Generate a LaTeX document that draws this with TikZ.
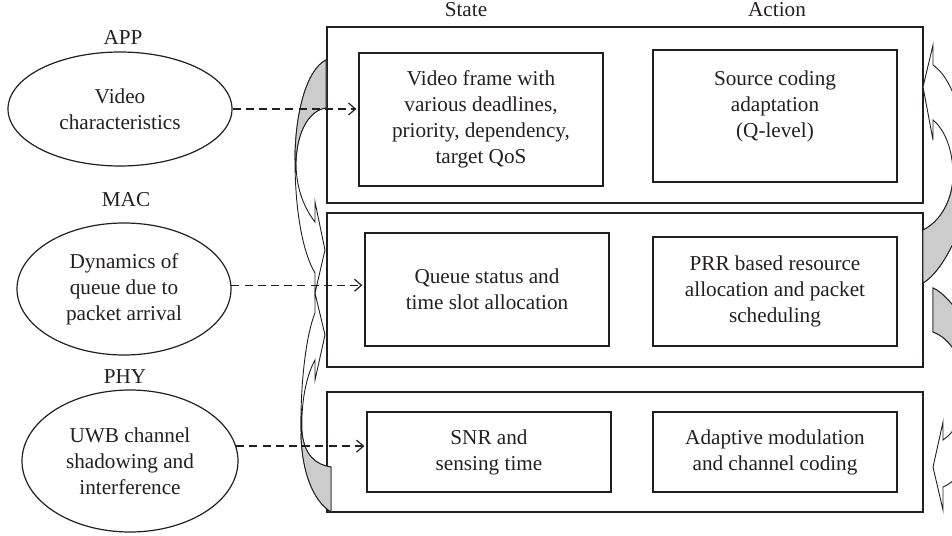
\documentclass[tikz,border=0pt]{standalone}
\usepackage{fontspec}
\setmainfont{Liberation Serif}
\usetikzlibrary{shapes.geometric,arrows.meta}

\definecolor{ink}{RGB}{35,31,32}
\definecolor{backface}{RGB}{204,204,204}

\tikzset{
  layerbox/.style={draw=ink, line width=0.6pt, minimum width=298pt, inner sep=0pt},
  infobox/.style={draw=ink, line width=0.6pt, minimum width=122pt, inner sep=0pt, align=center},
  source/.style={ellipse, draw=ink, line width=0.6pt, inner sep=0pt, align=center},
  feed/.style={draw=ink, line width=0.6pt, dash pattern=on 4pt off 2.6pt,
    -{Straight Barb[length=3.5pt,width=6pt]}, shorten >=1pt},
  bendfront/.style={draw=ink, line width=0.45pt, fill=white},
  bendback/.style={draw=ink, line width=0.45pt, fill=backface},
}

\begin{document}
\begin{tikzpicture}[x=0.5pt, y=-0.5pt, font=\fontsize{10.6}{13}\selectfont, text=ink]

  % Fix the frame of the picture
  \useasboundingbox (0,0) rectangle (952,535);

  % Column headings
  \node (state) at (466,10) {State};
  \node (action) at (777,10) {Action};

  % Layer names and their sources
  \node (applabel) at (123,38) {APP};
  \node (maclabel) at (126,200) {MAC};
  \node (phylabel) at (125,377) {PHY};

  \node[source, minimum width=112pt, minimum height=57pt] (app) at (120,109)
    {Video\\characteristics};
  \node[source, minimum width=107pt, minimum height=66pt] (mac) at (124,289)
    {Dynamics of\\queue due to\\packet arrival};
  \node[source, minimum width=108pt, minimum height=71pt] (phy) at (130,461)
    {UWB channel\\shadowing and\\interference};

  % One outer box per layer
  \node[layerbox, minimum height=88pt] (appbox) at (625,115) {};
  \node[layerbox, minimum height=77pt] (macbox) at (625,290) {};
  \node[layerbox, minimum height=60pt] (phybox) at (625,452) {};

  % State and action boxes
  \node[infobox, minimum height=66.5pt] (appstate) at (481,119.5)
    {Video frame with\\various deadlines,\\priority, dependency,\\target QoS};
  \node[infobox, minimum height=66pt] (appaction) at (775,116) {};
  \node[align=center] (appactiontext) at (775,106)
    {Source coding\\adaptation\\(Q-level)};

  \node[infobox, minimum height=56.5pt] (macstate) at (487,289.5)
    {Queue status and\\time slot allocation};
  \node[infobox, minimum height=54.5pt] (macaction) at (775,291.5)
    {PRR based resource\\allocation and packet\\scheduling};

  \node[infobox, minimum height=40pt] (phystate) at (489,452)
    {SNR and\\sensing time};
  \node[infobox, minimum height=40pt] (phyaction) at (775,452)
    {Adaptive modulation\\and channel coding};

  % Curved arrows between the layers (cut at the right edge)
  \begin{scope}
    \clip (0,0) rectangle (952,535);

    % left: APP down to MAC
    \draw[bendfront] (326,60) .. controls (306,70) and (295,115) .. (295,160)
      .. controls (295,215) and (304,255) .. (315,273)
      -- (315,293) -- (325,250) -- (315,202) -- (315,222)
      .. controls (302,205) and (296,185) .. (296,162)
      .. controls (297,130) and (310,110) .. (326,108) -- cycle;
    \draw[bendback] (326,60) .. controls (306,70) and (295,115) .. (295,160)
      -- (296,162) .. controls (297,130) and (310,110) .. (326,108) -- cycle;

    % left: PHY up to MAC
    \draw[bendfront] (331,512) .. controls (312,500) and (302,470) .. (301,435)
      .. controls (300,385) and (306,335) .. (315,313)
      -- (315,293) -- (325,335) -- (315,380) -- (315,360)
      .. controls (304,380) and (301,410) .. (302,432)
      .. controls (304,455) and (316,465) .. (331,467) -- cycle;
    \draw[bendback] (331,512) .. controls (312,500) and (302,470) .. (301,435)
      -- (302,432) .. controls (304,455) and (316,465) .. (331,467) -- cycle;

    % right: MAC up to APP
    \draw[bendfront] (923,87) -- (933,45) -- (933,65)
      .. controls (955,80) and (968,130) .. (968,180)
      .. controls (968,225) and (942,272) .. (923,283) -- (923,230)
      .. controls (940,222) and (953,200) .. (953,175)
      .. controls (953,150) and (945,130) .. (933,120) -- (933,140) -- cycle;
    \draw[bendback] (923,230) .. controls (940,222) and (953,200) .. (953,175)
      -- (968,180) .. controls (968,225) and (942,272) .. (923,283) -- cycle;

    % right: MAC down to PHY
    \draw[bendfront] (933,288) .. controls (952,296) and (985,345) .. (985,390)
      .. controls (985,440) and (965,478) .. (943,487)
      -- (943,510) -- (933,467) -- (943,422) -- (943,440)
      .. controls (955,432) and (965,415) .. (965,390)
      .. controls (965,360) and (950,338) .. (933,332) -- cycle;
    \draw[bendback] (933,288) .. controls (952,296) and (985,345) .. (985,390)
      -- (965,390) .. controls (965,360) and (950,338) .. (933,332) -- cycle;
  \end{scope}

  % Dashed inputs from the sources to the states
  \draw[feed] (app.east) -- (appstate.west |- app.east);
  \draw[feed] (mac.2) -- (macstate.west |- mac.2);
  \draw[feed] (phy.8) -- (phystate.west |- phy.8);

\end{tikzpicture}
\end{document}
